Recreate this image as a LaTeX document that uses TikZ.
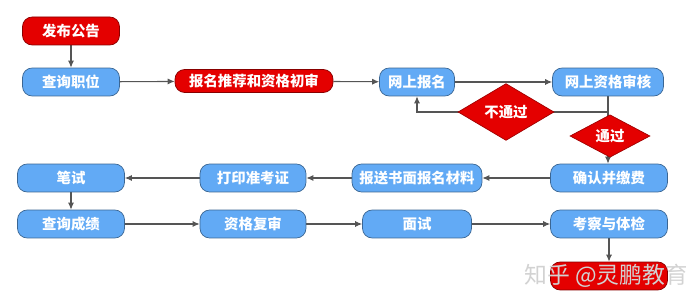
\documentclass[tikz,border=0pt]{standalone}
\usepackage{fontspec}
\setmainfont{Noto Sans CJK SC}
\usetikzlibrary{shapes.geometric,arrows.meta,backgrounds}
\definecolor{boxblue}{RGB}{98,170,245}
\definecolor{boxred}{RGB}{228,0,0}
\definecolor{edgegray}{RGB}{85,85,85}
\tikzset{
  box/.style={draw=#1!60!black, fill=#1, rounded corners=5.5pt, text=white,
    font=\bfseries\fontsize{8.2}{10}\selectfont, minimum height=0.56cm, inner sep=0pt},
  bluebox/.style={box=boxblue},
  redbox/.style={box=boxred},
  gate/.style={diamond, draw=boxred!70!black, fill=boxred, text=white,
    font=\bfseries\fontsize{8.2}{10}\selectfont, inner sep=0pt},
  flow/.style={draw=edgegray, line width=0.6pt, -{Latex[length=4pt,width=3.5pt]}}
}
\begin{document}
\begin{tikzpicture}[x=0.02cm, y=-0.02cm]
  \useasboundingbox (0,0) rectangle (686,307);

  % First row
  \node[redbox, minimum width=1.94cm] (notice) at (71,31) {发布公告};
  \node[bluebox, minimum width=1.94cm] (post) at (71,82) {查询职位};
  \node[redbox, minimum width=3.16cm, minimum height=0.46cm] (recommend) at (254,81) {报名推荐和资格初审};
  \node[bluebox, minimum width=1.50cm] (apply) at (417,82) {网上报名};
  \node[bluebox, minimum width=2.22cm] (review) at (608,82) {网上资格审核};

  % Review outcome
  \coordinate (split) at (608,112);
  \node[gate, minimum width=1.92cm, minimum height=0.56cm] (fail) at (506,112) {不通过};
  \node[gate, minimum width=1.60cm, minimum height=0.54cm] (pass) at (610,136) {通过};

  % Second row
  \node[bluebox, minimum width=2.34cm] (pay) at (609,178) {确认并缴费};
  \node[bluebox, minimum width=2.60cm] (papers) at (417,178) {报送书面报名材料};
  \node[bluebox, minimum width=2.12cm] (ticket) at (253,178) {打印准考证};
  \node[bluebox, minimum width=2.14cm] (written) at (71,178) {笔试};

  % Third row
  \node[bluebox, minimum width=2.14cm] (score) at (71,224) {查询成绩};
  \node[bluebox, minimum width=2.12cm] (recheck) at (253,224) {资格复审};
  \node[bluebox, minimum width=2.18cm] (interview) at (417,224) {面试};
  \node[bluebox, minimum width=2.34cm] (exam) at (609,224) {考察与体检};
  \node[redbox, minimum width=2.34cm] (final) at (609,276) {};

  % Connectors
  \begin{scope}[on background layer]
    \draw[flow] (notice) -- (post);
    \draw[flow] (post) -- (recommend);
    \draw[flow] (recommend) -- (apply);
    \draw[flow] (apply) -- (review);
    \draw[draw=edgegray, line width=0.6pt] (review) -- (split);
    \draw[flow] (split) -| (apply);
    \draw[flow] (split) -- (split |- pay.north);
    \draw[flow] (pay) -- (papers);
    \draw[flow] (papers) -- (ticket);
    \draw[flow] (ticket) -- (written);
    \draw[flow] (written) -- (score);
    \draw[flow] (score) -- (recheck);
    \draw[flow] (recheck) -- (interview);
    \draw[flow] (interview) -- (exam);
    \draw[flow] (exam) -- (final);
  \end{scope}

  % Watermark
  \node[text=gray!35, font=\fontsize{13}{15}\selectfont, anchor=west] (mark) at (518,276) {知乎 @灵鹏教育};
\end{tikzpicture}
\end{document}
